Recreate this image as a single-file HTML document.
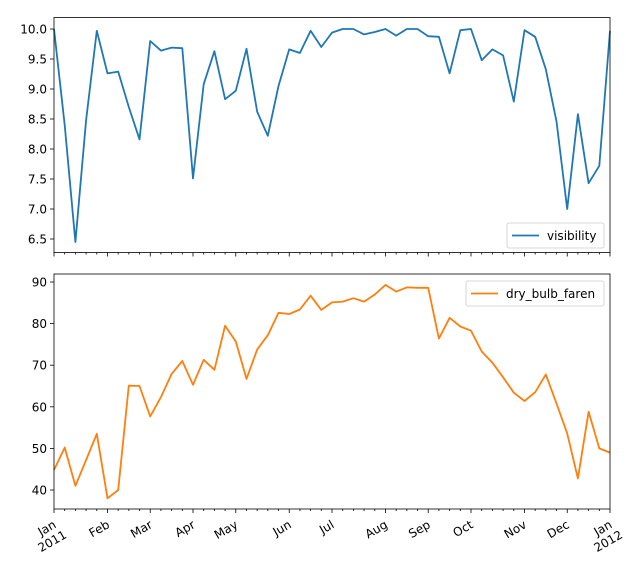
<!DOCTYPE html>
<html><head><meta charset="utf-8"><style>
body{margin:0;background:#fff}
svg{display:block;font-family:"DejaVu Sans","Liberation Sans",sans-serif}
</style></head><body>
<svg id="c" width="626" height="574" viewBox="0 0 626 574"></svg>
<script>
const visibility=[10.0,8.4,6.45,8.48,9.97,9.26,9.29,8.7,8.16,9.8,9.64,9.69,9.68,7.51,9.08,9.63,8.83,8.97,9.67,8.62,8.22,9.05,9.66,9.6,9.97,9.7,9.94,10.0,10.0,9.91,9.95,10.0,9.89,10.0,10.0,9.88,9.87,9.26,9.98,10.0,9.48,9.66,9.56,8.79,9.98,9.87,9.33,8.46,7.0,8.58,7.43,7.72,9.97];
const dryBulb=[44.8,50.2,41.0,47.2,53.5,38.0,40.0,65.1,65.0,57.7,62.3,67.9,71.0,65.3,71.3,68.9,79.5,75.7,66.7,73.8,77.2,82.6,82.3,83.4,86.7,83.3,85.1,85.3,86.1,85.3,87.0,89.3,87.7,88.7,88.6,88.6,76.4,81.4,79.3,78.3,73.3,70.6,67.1,63.4,61.4,63.5,67.8,60.8,53.6,42.8,58.8,50.0,49.0];
const monthLabels=["Jan","Feb","Mar","Apr","May","Jun","Jul","Aug","Sep","Oct","Nov","Dec","Jan"];
const monthWeeks=[0,5,9,13,17,22,26,31,35,39,44,48,52];
const visTicks=[6.5,7.0,7.5,8.0,8.5,9.0,9.5,10.0];
const tempTicks=[40,50,60,70,80,90];

const NS="http://www.w3.org/2000/svg";
const svg=document.getElementById('c');
function mk(t,a,p){const e=document.createElementNS(NS,t);for(const k in a)e.setAttribute(k,a[k]);(p||svg).appendChild(e);return e;}
const X0=54,X1=610;
const x=i=>X0+(X1-X0)*i/52;

function panel(name,top,bottom,yv0,yp0,yv1,yp1,data,ticks,color,fmt,legend,showX){
  const g=mk('g',{});
  
  
  const y=v=>yp0+(v-yv0)*(yp1-yp0)/(yv1-yv0);
  ticks.forEach(t=>{
    const l=mk('line',{x1:X0-4,x2:X0,y1:y(t),y2:y(t),stroke:'#000','stroke-width':0.8},g);
    
    
    const tx=mk('text',{x:X0-7,y:y(t)+4.5,'font-size':12,'text-anchor':'end',fill:'#000'},g);
    tx.textContent=fmt(t);
    
    
  });
  for(let i=0;i<=52;i++){
    const major=monthWeeks.includes(i);
    mk('line',{x1:x(i),x2:x(i),y1:bottom,y2:bottom+(major?4:2),stroke:'#000','stroke-width':0.8},g);
  }
  if(showX){
    monthWeeks.forEach((w,k)=>{
      const px=x(w),py=bottom+8;
      const t=mk('text',{transform:`translate(${px+3},${py+10}) rotate(-30)`,'font-size':12,'text-anchor':'end',fill:'#000'},g);
      
      
      if(k===0||k===12){
        const a=mk('tspan',{x:0,dy:0},t);a.textContent=monthLabels[k];
        const b=mk('tspan',{x:4,dy:14},t);b.textContent=k===0?"2011":"2012";
      } else t.textContent=monthLabels[k];
    });
  }
  const pts=data.map((v,i)=>x(i).toFixed(1)+','+y(v).toFixed(1)).join(' ');
  const pl=mk('polyline',{points:pts,fill:'none',stroke:color,'stroke-width':1.8,'stroke-linejoin':'round'},g);
  
  
  const fr=mk('rect',{x:X0,y:top,width:X1-X0,height:bottom-top,fill:'none',stroke:'#000','stroke-width':0.8},g);
  
  
  const lg=mk('g',{},g);
  
  
  mk('rect',{x:legend[0],y:legend[1],width:legend[2],height:25,rx:2,fill:'#fff',stroke:'#ccc','stroke-width':0.8},lg);
  mk('line',{x1:legend[0]+5,x2:legend[0]+32,y1:legend[1]+12.5,y2:legend[1]+12.5,stroke:color,'stroke-width':1.8},lg);
  const lt=mk('text',{x:legend[0]+40,y:legend[1]+17,'font-size':12,fill:'#000'},lg);
  lt.textContent=name;
}
panel('visibility',17.5,252.5,10.0,29,6.5,239,visibility,visTicks,'#1f77b4',v=>v.toFixed(1),[507,223,97],false);
panel('dry_bulb_faren',274,509,90,282,40,490,dryBulb,tempTicks,'#ff7f0e',v=>String(v),[466,281,138],true);
</script>
</body></html>
